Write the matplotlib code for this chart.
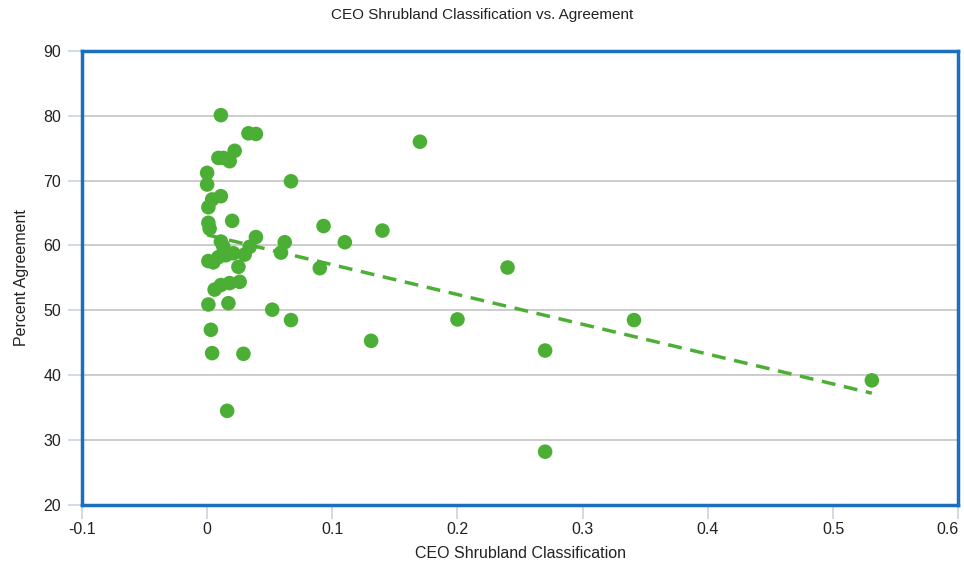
import numpy as np
import matplotlib.pyplot as plt

plt.rcParams['font.family'] = ['Liberation Sans', 'DejaVu Sans']

# CEO shrubland classification fraction vs. percent agreement
shrub = [0.011, 0.033, 0.039, 0.022, 0.009, 0.013, 0.018, 0.000, 0.000, 0.067,
         0.011, 0.004, 0.001, 0.020, 0.001, 0.002, 0.039, 0.011, 0.013, 0.062,
         0.059, 0.034, 0.030, 0.021, 0.015, 0.009, 0.001, 0.005, 0.025, 0.026,
         0.018, 0.011, 0.006, 0.001, 0.017, 0.052, 0.003, 0.004, 0.029, 0.016,
         0.170, 0.093, 0.110, 0.140, 0.090, 0.240, 0.067, 0.131, 0.200, 0.270,
         0.341, 0.270, 0.531]
agree = [80.1, 77.3, 77.2, 74.6, 73.5, 73.5, 73.0, 71.2, 69.4, 69.9,
         67.6, 67.1, 65.9, 63.8, 63.5, 62.6, 61.3, 60.6, 59.8, 60.5,
         58.9, 59.8, 58.6, 58.8, 58.5, 58.2, 57.6, 57.4, 56.7, 54.4,
         54.2, 53.9, 53.2, 50.9, 51.1, 50.1, 47.0, 43.4, 43.3, 34.5,
         76.0, 63.0, 60.5, 62.3, 56.5, 56.6, 48.5, 45.3, 48.6, 43.8,
         48.5, 28.2, 39.2]

x_ticks = [-0.1, 0, 0.1, 0.2, 0.3, 0.4, 0.5, 0.6]
x_labels = ['-0.1', '0', '0.1', '0.2', '0.3', '0.4', '0.5', '0.6']
y_ticks = [20, 30, 40, 50, 60, 70, 80, 90]

green = '#4caf35'
x = np.array(shrub)
y = np.array(agree)
m, b = np.polyfit(x, y, 1)
xt = np.array([x.min(), x.max()])

fig = plt.figure(figsize=(9.64, 5.66), dpi=100)
ax = fig.add_axes([0.085, 0.108, 0.909, 0.802])

ax.scatter(x, y, s=110, color=green, edgecolors='none', zorder=3)
ax.plot(xt, m * xt + b, '--', color=green, lw=2.5, dashes=(4, 2.5), zorder=2)

ax.set_xlim(-0.1, 0.6)
ax.set_ylim(20, 90)
ax.set_xticks(x_ticks)
ax.set_xticklabels(x_labels)
ax.set_yticks(y_ticks)
ax.grid(axis='y', color='#c4c4c4', lw=1.2)
ax.set_axisbelow(True)
for s in ax.spines.values():
    s.set_color('#1a6fc0')
    s.set_linewidth(2.5)
ax.tick_params(axis='both', length=10, width=1.2, color='#c8d4e2',
               labelsize=11.5, labelcolor='#222222')
ax.tick_params(axis='x', pad=2)
ax.tick_params(axis='y', pad=5)
# keep the last x label inside the figure edge
ax.get_xticklabels()[-1].set_horizontalalignment('right')

ax.set_xlabel('CEO Shrubland Classification', fontsize=11.5, labelpad=7, color='#222222')
ax.set_ylabel('Percent Agreement', fontsize=11.5, labelpad=10, color='#222222')
fig.suptitle('CEO Shrubland Classification vs. Agreement', fontsize=11, y=0.985, color='#222222')

fig.savefig('out.png', dpi=100)
